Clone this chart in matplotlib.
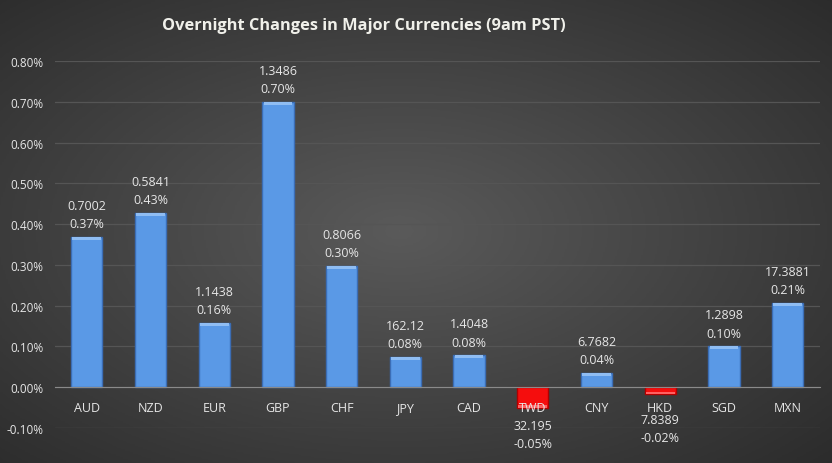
import numpy as np
import matplotlib
matplotlib.use('Agg')
import matplotlib.pyplot as plt
from matplotlib.ticker import FuncFormatter

# données
devises = ['AUD', 'NZD', 'EUR', 'GBP', 'CHF', 'JPY', 'CAD', 'TWD', 'CNY', 'HKD', 'SGD', 'MXN']
variations = [0.368, 0.427, 0.157, 0.699, 0.297, 0.074, 0.078, -0.05, 0.034, -0.017, 0.10, 0.206]
cours = ['0.7002', '0.5841', '1.1438', '1.3486', '0.8066', '162.12', '1.4048', '32.195',
         '6.7682', '7.8389', '1.2898', '17.3881']
pourcents = ['0.37%', '0.43%', '0.16%', '0.70%', '0.30%', '0.08%', '0.08%', '-0.05%',
             '0.04%', '-0.02%', '0.10%', '0.21%']

plt.rcParams['font.family'] = ['Open Sans', 'DejaVu Sans']
TXT = '#e6e6e6'

fig = plt.figure(figsize=(8.32, 4.64), dpi=100)

# fond : dégradé radial gris
bg = fig.add_axes([0, 0, 1, 1], zorder=-10)
yy, xx = np.mgrid[0:1:300j, 0:1:500j]
r = np.sqrt(((xx - 0.48) / 0.75) ** 2 + ((yy - 0.5) / 0.75) ** 2)
bg.imshow(np.clip(r, 0, 1), cmap=matplotlib.colors.LinearSegmentedColormap.from_list(
    'g', ['#5a5a5a', '#2a2a2a']), aspect='auto', extent=[0, 1, 0, 1], vmin=0, vmax=1)
bg.axis('off')

ax = fig.add_axes([0.066, 0.0754, 0.919, 0.7906])
ax.patch.set_alpha(0)

x = np.arange(len(devises))
couleurs = ['#5a99e6' if v >= 0 else '#f50d0d' for v in variations]
bords = ['#3b6db5' if v >= 0 else '#b00000' for v in variations]
ax.bar(x, variations, width=0.49, color=couleurs, edgecolor=bords, linewidth=1, zorder=2)
# petit biseau clair au bout des barres
hl = ['#8fbdf3' if v >= 0 else '#ff6060' for v in variations]
ax.bar(x, [0.006 if v >= 0 else -0.006 for v in variations], width=0.45,
       bottom=[v - 0.006 if v >= 0 else v + 0.006 for v in variations],
       color=hl, linewidth=0, zorder=3)

for i, v in enumerate(variations):
    if v >= 0:
        ax.annotate(cours[i] + '\n' + pourcents[i], (i, v), xytext=(0, 5),
                    textcoords='offset points', ha='center', va='bottom',
                    color=TXT, fontsize=9, linespacing=1.55)
    else:
        # sous l'étiquette de catégorie
        ax.annotate(cours[i] + '\n' + pourcents[i], (i, min(v, -0.035)), xytext=(0, -8),
                    textcoords='offset points', ha='center', va='top',
                    color=TXT, fontsize=9, linespacing=1.55)

ax.set_xlim(-0.5, len(devises) - 0.5)
ax.set_ylim(-0.10, 0.80)
ax.set_yticks(np.arange(-0.10, 0.801, 0.10))
ax.yaxis.set_major_formatter(FuncFormatter(lambda y, pos: '%.2f%%' % y))
ax.grid(axis='y', color='#555555', linewidth=0.9, zorder=0)
ax.set_axisbelow(True)

ax.set_xticks(x)
ax.set_xticklabels(devises)
ax.spines['bottom'].set_position(('data', 0))
ax.spines['bottom'].set_color('#8a8a8a')
ax.spines['bottom'].set_zorder(4)
for s in ['left', 'right', 'top']:
    ax.spines[s].set_visible(False)
ax.tick_params(axis='x', length=0, pad=10, colors=TXT, labelsize=9)
ax.tick_params(axis='y', length=0, pad=8, colors=TXT, labelsize=8.5)
ax.xaxis.set_zorder(5)

fig.text(0.437, 0.944, 'Overnight Changes in Major Currencies (9am PST)', ha='center',
         va='center', color='#f0f0ea', fontsize=11.8, fontweight='bold')

fig.savefig('out.png', dpi=100)
